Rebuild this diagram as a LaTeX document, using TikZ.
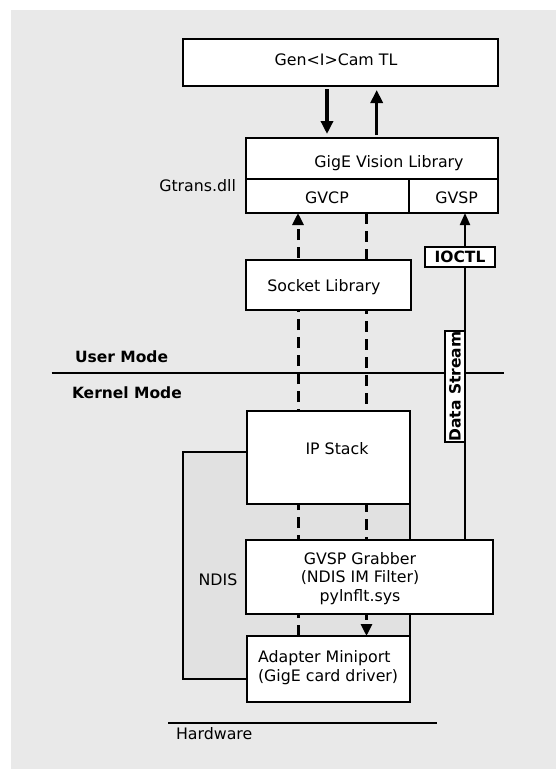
\documentclass[tikz,border=0pt]{standalone}
\usepackage{fontspec}
\setmainfont{DejaVu Sans}
\usetikzlibrary{arrows.meta}
\definecolor{bggrey}{HTML}{E9E9E9}
\definecolor{ndisgrey}{HTML}{E1E1E1}
\pgfdeclarelayer{back}
\pgfdeclarelayer{lines}
\pgfsetlayers{back,lines,main}
\tikzset{
  box/.style={draw=black, line width=2pt, fill=white, inner sep=0pt, outer sep=0pt},
  txt/.style={inner sep=0pt, outer sep=0pt},
  bold/.style={font=\bfseries\fontsize{15.5}{18}\selectfont},
  tag/.style={draw=black, line width=1.6pt, fill=white, inner sep=0pt, outer sep=0pt, bold},
  thickarrow/.style={line width=3.3pt, -{Triangle[width=12pt,length=13pt]}, shorten >=4pt, shorten <=3pt},
  dasharrow/.style={line width=3pt, dash pattern=on 11pt off 7pt, -{Triangle[width=11pt,length=12pt]}},
  streamarrow/.style={line width=2pt, -{Triangle[width=10pt,length=12pt]}},
  modeline/.style={line width=1.3pt},
}
\begin{document}
\begin{tikzpicture}[x=1pt, y=-1pt, font=\fontsize{15.8}{18.5}\selectfont]
\useasboundingbox (0,0) rectangle (556,769);
\begin{pgfonlayer}{back}
\fill[bggrey] (11,10) rectangle (556,769);
\draw[fill=ndisgrey, line width=2pt] (183,452) rectangle (410,679);
\end{pgfonlayer}
\node[txt] (ndis) at (218,580) {NDIS};
% mode lines
\coordinate (um1) at (51.7,373);
\coordinate (um2) at (504,373);
\draw[modeline] (um1) -- (um2);
\node[txt, bold, anchor=west] (user) at (75,357) {User Mode};
\node[txt, bold, anchor=west] (kernel) at (72,393) {Kernel Mode};
\coordinate (hw1) at (168,723);
\coordinate (hw2) at (437,723);
\draw[modeline] (hw1) -- (hw2);
\node[txt, anchor=west] (hw) at (176,734) {Hardware};
% boxes
\node[box, minimum width=315pt, minimum height=47pt] (gencam) at (340.5,62.5) {};
\node[box, minimum width=252pt, minimum height=41pt] (gvl) at (372,158.5) {};
\node[box, minimum width=163pt, minimum height=34pt] (gvcp) at (327.5,196) {};
\node[box, minimum width=89pt, minimum height=34pt] (gvsp) at (453.5,196) {};
\node[txt, anchor=east] (gtrans) at (236,186) {Gtrans.dll};
\node[box, minimum width=165pt, minimum height=50pt] (sock) at (328.5,285) {};
\node[box, minimum width=163pt, minimum height=93pt] (ip) at (328.5,457.5) {};
\node[box, minimum width=247pt, minimum height=74pt] (grab) at (369.5,577) {};
\node[box, minimum width=163pt, minimum height=66pt] (adapt) at (328.5,669) {};
% column coordinates
\coordinate (xl) at (298,0);
\coordinate (xr) at (366.5,0);
\coordinate (xd) at (465,0);
\coordinate (xu) at (376.7,0);
\coordinate (xdn) at (327,0);
\begin{pgfonlayer}{lines}
\draw[dasharrow] (adapt.north -| xl) -- (gvcp.south -| xl);
\draw[dasharrow] (gvcp.south -| xr) -- (adapt.north -| xr);
\draw[streamarrow] (grab.north -| xd) -- (gvsp.south -| xd);
\end{pgfonlayer}
% texts
\node[txt] (gentext) at (336,60) {Gen<I>Cam TL};
\node[txt] (gvltext) at (389,163) {GigE Vision Library};
\node[txt] (gvcptext) at (327,198) {GVCP};
\node[txt] (gvsptext) at (456.7,198) {GVSP};
\node[txt] (socktext) at (324,287) {Socket Library};
\node[txt] (iptext) at (337,449) {IP Stack};
\node[txt, align=center] (grabtext) at (360,578.5) {GVSP Grabber\\(NDIS IM Filter)\\pylnflt.sys};
\node[txt, align=left, anchor=west] (adapttext) at (258,667.5) {Adapter Miniport\\(GigE card driver)};
% arrows between Gen<I>Cam and GigE library
\draw[thickarrow] (gencam.south -| xdn) -- (gvl.north -| xdn);
\draw[thickarrow] (gvl.north -| xu) -- (gencam.south -| xu);
% labels on the stream line
\node[tag, minimum width=70pt, minimum height=20pt] (ioctl) at (460,257) {IOCTL};
\node[tag, rotate=90, minimum width=111pt, minimum height=20pt] (dstream) at (455,386.5) {Data Stream};
\end{tikzpicture}
\end{document}
